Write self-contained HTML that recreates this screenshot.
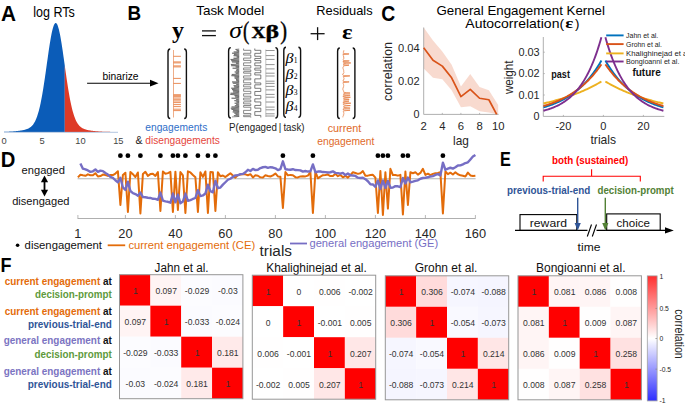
<!DOCTYPE html>
<html><head><meta charset="utf-8"><style>
html,body{margin:0;padding:0;background:#fff;}
svg{display:block;font-family:"Liberation Sans", sans-serif;}
</style></head><body>
<svg width="685" height="403" viewBox="0 0 685 403">
<rect width="685" height="403" fill="#fff"/>
<text x="0.90" y="20.60" font-size="22" fill="#000" font-weight="bold" textLength="15.0" lengthAdjust="spacingAndGlyphs">A</text>
<text x="33.30" y="17.40" font-size="14" fill="#000" textLength="41.5" lengthAdjust="spacingAndGlyphs">log RTs</text>
<polygon points="4.00,132.00 4.00,131.81 4.38,131.80 4.76,131.79 5.14,131.78 5.53,131.77 5.91,131.75 6.29,131.74 6.67,131.73 7.05,131.71 7.43,131.70 7.81,131.68 8.19,131.66 8.58,131.65 8.96,131.63 9.34,131.61 9.72,131.59 10.10,131.57 10.48,131.55 10.86,131.53 11.24,131.51 11.63,131.48 12.01,131.46 12.39,131.43 12.77,131.41 13.15,131.38 13.53,131.35 13.91,131.32 14.29,131.29 14.68,131.26 15.06,131.22 15.44,131.19 15.82,131.15 16.20,131.12 16.58,131.08 16.96,131.04 17.34,131.00 17.73,130.96 18.11,130.91 18.49,130.87 18.87,130.82 19.25,130.77 19.63,130.72 20.01,130.67 20.39,130.61 20.78,130.55 21.16,130.49 21.54,130.43 21.92,130.37 22.30,130.30 22.68,130.23 23.06,130.15 23.44,130.07 23.83,129.99 24.21,129.90 24.59,129.81 24.97,129.71 25.35,129.60 25.73,129.49 26.11,129.37 26.49,129.25 26.88,129.11 27.26,128.97 27.64,128.81 28.02,128.64 28.40,128.46 28.78,128.26 29.16,128.05 29.55,127.82 29.93,127.57 30.31,127.30 30.69,127.01 31.07,126.69 31.45,126.34 31.83,125.97 32.21,125.57 32.60,125.13 32.98,124.65 33.36,124.14 33.74,123.58 34.12,122.98 34.50,122.34 34.88,121.64 35.26,120.88 35.65,120.08 36.03,119.21 36.41,118.27 36.79,117.28 37.17,116.21 37.55,115.08 37.93,113.87 38.31,112.58 38.70,111.22 39.08,109.77 39.46,108.25 39.84,106.64 40.22,104.95 40.60,103.17 40.98,101.31 41.36,99.37 41.75,97.34 42.13,95.23 42.51,93.05 42.89,90.79 43.27,88.45 43.65,86.05 44.03,83.58 44.41,81.06 44.80,78.48 45.18,75.86 45.56,73.20 45.94,70.51 46.32,67.80 46.70,65.08 47.08,62.35 47.46,59.63 47.85,56.93 48.23,54.25 48.61,51.62 48.99,49.03 49.37,46.51 49.75,44.06 50.13,41.70 50.52,39.43 50.90,37.27 51.28,35.23 51.66,33.32 52.04,31.54 52.42,29.91 52.80,28.44 53.18,27.13 53.57,25.99 53.95,25.03 54.33,24.24 54.71,23.65 55.09,23.25 55.47,23.03 55.85,23.02 56.23,23.19 56.62,23.56 57.00,24.11 57.38,24.86 57.76,25.78 58.14,26.89 58.52,28.16 58.90,29.60 59.28,31.20 59.67,32.95 60.05,34.84 60.43,36.86 60.81,38.99 61.19,41.24 61.57,43.59 61.95,46.02 62.33,48.53 62.72,51.10 63.10,53.73 63.48,56.39 63.86,59.09 64.24,61.81 64.62,64.54 64.80,65.81 64.80,132.00" fill="#0B5CB8"/>
<polygon points="64.80,132.00 64.80,65.81 65.00,67.26 65.38,69.98 65.77,72.67 66.15,75.34 66.53,77.97 66.91,80.55 67.29,83.09 67.67,85.57 68.05,87.98 68.43,90.33 68.82,92.60 69.20,94.81 69.58,96.93 69.96,98.97 70.34,100.93 70.72,102.81 71.10,104.60 71.48,106.31 71.87,107.93 72.25,109.48 72.63,110.94 73.01,112.32 73.39,113.62 73.77,114.84 74.15,115.99 74.54,117.07 74.92,118.08 75.30,119.03 75.68,119.91 76.06,120.73 76.44,121.49 76.82,122.20 77.20,122.86 77.59,123.47 77.97,124.03 78.35,124.56 78.73,125.04 79.11,125.48 79.49,125.89 79.87,126.27 80.25,126.62 80.64,126.95 81.02,127.24 81.40,127.52 81.78,127.77 82.16,128.00 82.54,128.22 82.92,128.42 83.30,128.60 83.69,128.78 84.07,128.94 84.45,129.08 84.83,129.22 85.21,129.35 85.59,129.47 85.97,129.58 86.35,129.69 86.74,129.79 87.12,129.88 87.50,129.97 87.88,130.06 88.26,130.14 88.64,130.21 89.02,130.28 89.40,130.35 89.79,130.42 90.17,130.48 90.55,130.54 90.93,130.60 91.31,130.65 91.69,130.71 92.07,130.76 92.45,130.81 92.84,130.86 93.22,130.90 93.60,130.95 93.98,130.99 94.36,131.03 94.74,131.07 95.12,131.11 95.51,131.15 95.89,131.18 96.27,131.22 96.65,131.25 97.03,131.28 97.41,131.31 97.79,131.34 98.17,131.37 98.56,131.40 98.94,131.43 99.32,131.45 99.70,131.48 100.08,131.50 100.46,131.52 100.84,131.55 101.22,131.57 101.61,131.59 101.99,131.61 102.37,131.63 102.75,131.64 103.13,131.66 103.51,131.68 103.89,131.69 104.27,131.71 104.66,131.72 105.04,131.74 105.42,131.75 105.80,131.76 106.18,131.78 106.56,131.79 106.94,131.80 107.32,131.81 107.71,131.82 108.09,131.83 108.47,131.84 108.85,131.85 109.23,131.86 109.61,131.86 109.99,131.87 110.37,131.88 110.76,131.89 111.14,131.89 111.52,131.90 111.90,131.90 112.28,131.91 112.66,131.91 113.04,131.92 113.42,131.92 113.81,131.93 114.19,131.93 114.57,131.94 114.95,131.94 115.33,131.94 115.71,131.95 116.09,131.95 116.47,131.95 116.86,131.96 117.24,131.96 117.62,131.96 118.00,131.96 118.00,132.00" fill="#DE3A26"/>
<line x1="4" y1="132.3" x2="118" y2="132.3" stroke="#9fb8d8" stroke-width="0.8"/>
<text x="4.10" y="144.30" font-size="9.3" fill="#444" text-anchor="middle">0</text>
<text x="42.00" y="144.30" font-size="9.3" fill="#444" text-anchor="middle">5</text>
<text x="80.50" y="144.30" font-size="9.3" fill="#444" text-anchor="middle">10</text>
<text x="118.30" y="144.30" font-size="9.3" fill="#444" text-anchor="middle">15</text>
<line x1="87.1" y1="83.2" x2="151" y2="83.2" stroke="#000" stroke-width="1.1"/>
<polygon points="150,79.8 158.5,83.2 150,86.6" fill="#000"/>
<text x="102.60" y="80.20" font-size="10.5" fill="#000" textLength="36.0" lengthAdjust="spacingAndGlyphs">binarize</text>
<text x="127.60" y="19.90" font-size="21" fill="#000" font-weight="bold" textLength="13.6" lengthAdjust="spacingAndGlyphs">B</text>
<text x="196.20" y="15.20" font-size="12.8" fill="#000" textLength="68.0" lengthAdjust="spacingAndGlyphs">Task Model</text>
<text x="316.30" y="14.50" font-size="12.8" fill="#000" textLength="56.3" lengthAdjust="spacingAndGlyphs">Residuals</text>
<text x="172.00" y="38.40" font-size="22.4" fill="#000" font-weight="bold" textLength="12.0" lengthAdjust="spacingAndGlyphs" font-family='"Liberation Serif", serif'>y</text>
<line x1="202" y1="30.9" x2="215.9" y2="30.9" stroke="#111" stroke-width="1.3"/>
<line x1="202" y1="35.6" x2="215.9" y2="35.6" stroke="#111" stroke-width="1.3"/>
<text x="229.30" y="38.40" font-size="23" fill="#000" textLength="12.6" lengthAdjust="spacingAndGlyphs" font-family='"Liberation Serif", serif' font-style="italic">&#963;</text>
<text x="243.00" y="39.20" font-size="24.5" fill="#000" textLength="6.2" lengthAdjust="spacingAndGlyphs" font-family='"Liberation Serif", serif' stroke="#000" stroke-width="0.45">(</text>
<text x="251.60" y="38.40" font-size="17.7" fill="#000" font-weight="bold" textLength="14.0" lengthAdjust="spacingAndGlyphs" font-family='"Liberation Serif", serif' stroke="#000" stroke-width="0.4">X</text>
<text x="265.40" y="38.40" font-size="19.6" fill="#000" font-weight="bold" textLength="13.6" lengthAdjust="spacingAndGlyphs" font-family='"Liberation Serif", serif' stroke="#000" stroke-width="0.35">&#946;</text>
<text x="280.30" y="39.20" font-size="24.5" fill="#000" textLength="6.8" lengthAdjust="spacingAndGlyphs" font-family='"Liberation Serif", serif' stroke="#000" stroke-width="0.45">)</text>
<line x1="310.6" y1="33.7" x2="324.6" y2="33.7" stroke="#111" stroke-width="1.3"/>
<line x1="317.6" y1="27.2" x2="317.6" y2="40.1" stroke="#111" stroke-width="1.3"/>
<text x="342.00" y="39.40" font-size="21.7" fill="#000" font-weight="bold" textLength="10.6" lengthAdjust="spacingAndGlyphs" font-family='"Liberation Serif", serif'>&#949;</text>
<path d="M170.20,49.00 Q168.00,49.00 168.00,52.30 L168.00,115.20 Q168.00,118.50 170.20,118.50" fill="none" stroke="#111" stroke-width="1.4"/>
<path d="M184.20,49.00 Q186.40,49.00 186.40,52.30 L186.40,115.20 Q186.40,118.50 184.20,118.50" fill="none" stroke="#111" stroke-width="1.4"/>
<line x1="173.5" y1="50" x2="173.5" y2="117.5" stroke="#E3702F" stroke-width="0.7" opacity="0.8"/>
<line x1="173.5" y1="56.3" x2="180.9" y2="56.3" stroke="#E3702F" stroke-width="0.8"/>
<line x1="173.5" y1="61.9" x2="180.9" y2="61.9" stroke="#E3702F" stroke-width="0.8"/>
<line x1="173.5" y1="62.9" x2="180.9" y2="62.9" stroke="#E3702F" stroke-width="0.8"/>
<line x1="173.5" y1="65.9" x2="180.9" y2="65.9" stroke="#E3702F" stroke-width="0.8"/>
<line x1="173.5" y1="66.9" x2="180.9" y2="66.9" stroke="#E3702F" stroke-width="0.8"/>
<line x1="173.5" y1="78.4" x2="180.9" y2="78.4" stroke="#E3702F" stroke-width="0.8"/>
<line x1="173.5" y1="83.4" x2="180.9" y2="83.4" stroke="#E3702F" stroke-width="0.8"/>
<line x1="173.5" y1="94.7" x2="180.9" y2="94.7" stroke="#E3702F" stroke-width="0.8"/>
<line x1="173.5" y1="95.7" x2="180.9" y2="95.7" stroke="#E3702F" stroke-width="0.8"/>
<line x1="173.5" y1="96.7" x2="180.9" y2="96.7" stroke="#E3702F" stroke-width="0.8"/>
<line x1="173.5" y1="98.1" x2="180.9" y2="98.1" stroke="#E3702F" stroke-width="0.8"/>
<line x1="173.5" y1="99.7" x2="180.9" y2="99.7" stroke="#E3702F" stroke-width="0.8"/>
<line x1="173.5" y1="101" x2="180.9" y2="101" stroke="#E3702F" stroke-width="0.8"/>
<line x1="173.5" y1="102.6" x2="180.9" y2="102.6" stroke="#E3702F" stroke-width="0.8"/>
<line x1="173.5" y1="104.6" x2="180.9" y2="104.6" stroke="#E3702F" stroke-width="0.8"/>
<line x1="173.5" y1="106.6" x2="180.9" y2="106.6" stroke="#E3702F" stroke-width="0.8"/>
<line x1="173.5" y1="109.2" x2="180.9" y2="109.2" stroke="#E3702F" stroke-width="0.8"/>
<line x1="173.5" y1="110.6" x2="180.9" y2="110.6" stroke="#E3702F" stroke-width="0.8"/>
<path d="M230.80,47.60 Q228.60,47.60 228.60,50.90 L228.60,114.70 Q228.60,118.00 230.80,118.00" fill="none" stroke="#111" stroke-width="1.4"/>
<path d="M275.40,47.60 Q277.60,47.60 277.60,50.90 L277.60,114.70 Q277.60,118.00 275.40,118.00" fill="none" stroke="#111" stroke-width="1.4"/>
<polyline points="239.20,49.00 235.53,49.45 239.20,50.25 236.57,50.70 239.20,51.50 233.69,51.95 239.20,52.75 231.99,53.20 239.20,54.00 233.97,54.45 239.20,55.25 233.54,55.70 239.20,56.50 236.62,56.95 239.20,57.75 233.53,58.20 239.20,59.00 230.58,59.45 239.20,60.25 231.17,60.70 239.20,61.50 231.96,61.95 239.20,62.75 235.99,63.20 239.20,64.00 230.89,64.45 239.20,65.25 231.13,65.70 239.20,66.50 235.63,66.95 239.20,67.75 232.59,68.20 239.20,69.00 236.57,69.45 239.20,70.25 235.94,70.70 239.20,71.50 234.64,71.95 239.20,72.75 235.67,73.20 239.20,74.00 231.77,74.45 239.20,75.25 231.38,75.70 239.20,76.50 234.46,76.95 239.20,77.75 234.63,78.20 239.20,79.00 235.97,79.45 239.20,80.25 236.15,80.70 239.20,81.50 232.07,81.95 239.20,82.75 232.80,83.20 239.20,84.00 236.34,84.45 239.20,85.25 233.58,85.70 239.20,86.50 234.09,86.95 239.20,87.75 231.19,88.20 239.20,89.00 232.03,89.45 239.20,90.25 232.79,90.70 239.20,91.50 233.11,91.95 239.20,92.75 230.53,93.20 239.20,94.00 230.29,94.45 239.20,95.25 234.50,95.70 239.20,96.50 235.14,96.95 239.20,97.75 231.52,98.20 239.20,99.00 236.29,99.45 239.20,100.25 234.33,100.70 239.20,101.50 236.24,101.95 239.20,102.75 234.62,103.20 239.20,104.00 236.24,104.45 239.20,105.25 234.81,105.70 239.20,106.50 231.56,106.95 239.20,107.75 230.81,108.20 239.20,109.00 231.55,109.45 239.20,110.25 233.05,110.70 239.20,111.50 232.70,111.95 239.20,112.75 234.35,113.20 239.20,114.00 235.60,114.45 239.20,115.25 233.86,115.70 239.20,116.50 231.94,116.95" fill="none" stroke="#333" stroke-width="0.6" opacity="0.85"/>
<polyline points="243.60,48.50 243.60,50.30 250.80,50.30 250.80,53.27 243.60,53.27 243.60,55.04 250.80,55.04 250.80,58.09 243.60,58.09 243.60,60.37 250.80,60.37 250.80,62.87 243.60,62.87 243.60,65.65 250.80,65.65 250.80,67.98 243.60,67.98 243.60,69.92 250.80,69.92 250.80,71.66 243.60,71.66 243.60,73.20 250.80,73.20 250.80,75.93 243.60,75.93 243.60,78.13 250.80,78.13 250.80,79.81 243.60,79.81 243.60,82.79 250.80,82.79 250.80,84.69 243.60,84.69 243.60,86.83 250.80,86.83 250.80,88.77 243.60,88.77 243.60,91.30 250.80,91.30 250.80,93.74 243.60,93.74 243.60,96.22 250.80,96.22 250.80,98.10 243.60,98.10 243.60,100.01 250.80,100.01 250.80,101.87 243.60,101.87 243.60,103.86 250.80,103.86 250.80,105.52 243.60,105.52 243.60,107.22 250.80,107.22 250.80,110.35 243.60,110.35 243.60,113.48 250.80,113.48 250.80,115.22 243.60,115.22 243.60,116.66 250.80,116.66 250.80,117.50" fill="none" stroke="#6a6a6a" stroke-width="0.8"/>
<polyline points="254.80,48.50 254.80,50.32 260.80,50.32 260.80,53.33 254.80,53.33 254.80,56.32 260.80,56.32 260.80,58.44 254.80,58.44 254.80,60.58 260.80,60.58 260.80,62.91 254.80,62.91 254.80,65.71 260.80,65.71 260.80,68.11 254.80,68.11 254.80,70.11 260.80,70.11 260.80,72.74 254.80,72.74 254.80,74.94 260.80,74.94 260.80,78.85 254.80,78.85 254.80,82.93 260.80,82.93 260.80,84.82 254.80,84.82 254.80,88.30 260.80,88.30 260.80,91.47 254.80,91.47 254.80,95.43 260.80,95.43 260.80,98.83 254.80,98.83 254.80,101.94 260.80,101.94 260.80,105.43 254.80,105.43 254.80,108.16 260.80,108.16 260.80,111.62 254.80,111.62 254.80,115.40 260.80,115.40 260.80,117.50" fill="none" stroke="#5a5a5a" stroke-width="0.8"/>
<line x1="265.8" y1="49.5" x2="265.8" y2="117" stroke="#aaa" stroke-width="0.7"/>
<line x1="265.8" y1="50.5" x2="274.6" y2="50.5" stroke="#7a7a7a" stroke-width="0.8"/>
<line x1="265.8" y1="55.6" x2="274.6" y2="55.6" stroke="#7a7a7a" stroke-width="0.8"/>
<line x1="265.8" y1="59.4" x2="274.6" y2="59.4" stroke="#7a7a7a" stroke-width="0.8"/>
<line x1="265.8" y1="64.6" x2="274.6" y2="64.6" stroke="#7a7a7a" stroke-width="0.8"/>
<line x1="265.8" y1="68.9" x2="274.6" y2="68.9" stroke="#7a7a7a" stroke-width="0.8"/>
<line x1="265.8" y1="73.2" x2="274.6" y2="73.2" stroke="#7a7a7a" stroke-width="0.8"/>
<line x1="265.8" y1="76.0" x2="274.6" y2="76.0" stroke="#7a7a7a" stroke-width="0.8"/>
<line x1="265.8" y1="81.2" x2="274.6" y2="81.2" stroke="#7a7a7a" stroke-width="0.8"/>
<line x1="265.8" y1="83.4" x2="274.6" y2="83.4" stroke="#7a7a7a" stroke-width="0.8"/>
<line x1="265.8" y1="86.4" x2="274.6" y2="86.4" stroke="#7a7a7a" stroke-width="0.8"/>
<line x1="265.8" y1="89.9" x2="274.6" y2="89.9" stroke="#7a7a7a" stroke-width="0.8"/>
<line x1="265.8" y1="94.4" x2="274.6" y2="94.4" stroke="#7a7a7a" stroke-width="0.8"/>
<line x1="265.8" y1="97.2" x2="274.6" y2="97.2" stroke="#7a7a7a" stroke-width="0.8"/>
<line x1="265.8" y1="102.0" x2="274.6" y2="102.0" stroke="#7a7a7a" stroke-width="0.8"/>
<line x1="265.8" y1="107.1" x2="274.6" y2="107.1" stroke="#7a7a7a" stroke-width="0.8"/>
<line x1="265.8" y1="109.8" x2="274.6" y2="109.8" stroke="#7a7a7a" stroke-width="0.8"/>
<line x1="265.8" y1="113.8" x2="274.6" y2="113.8" stroke="#7a7a7a" stroke-width="0.8"/>
<line x1="265.8" y1="116.0" x2="274.6" y2="116.0" stroke="#7a7a7a" stroke-width="0.8"/>
<path d="M286.00,47.20 Q283.80,47.20 283.80,50.50 L283.80,114.10 Q283.80,117.40 286.00,117.40" fill="none" stroke="#111" stroke-width="1.4"/>
<path d="M298.40,47.20 Q300.60,47.20 300.60,50.50 L300.60,114.10 Q300.60,117.40 298.40,117.40" fill="none" stroke="#111" stroke-width="1.4"/>
<text x="285.50" y="63.00" font-size="15" fill="#000" textLength="8.0" lengthAdjust="spacingAndGlyphs" font-family='"Liberation Serif", serif' font-style="italic">&#946;</text>
<text x="293.70" y="63.40" font-size="8.6" fill="#000" textLength="3.8" lengthAdjust="spacingAndGlyphs" font-family='"Liberation Serif", serif'>1</text>
<text x="285.50" y="78.80" font-size="15" fill="#000" textLength="8.0" lengthAdjust="spacingAndGlyphs" font-family='"Liberation Serif", serif' font-style="italic">&#946;</text>
<text x="293.70" y="79.20" font-size="8.6" fill="#000" textLength="3.8" lengthAdjust="spacingAndGlyphs" font-family='"Liberation Serif", serif'>2</text>
<text x="285.50" y="94.70" font-size="15" fill="#000" textLength="8.0" lengthAdjust="spacingAndGlyphs" font-family='"Liberation Serif", serif' font-style="italic">&#946;</text>
<text x="293.70" y="95.10" font-size="8.6" fill="#000" textLength="3.8" lengthAdjust="spacingAndGlyphs" font-family='"Liberation Serif", serif'>3</text>
<text x="285.50" y="110.50" font-size="15" fill="#000" textLength="8.0" lengthAdjust="spacingAndGlyphs" font-family='"Liberation Serif", serif' font-style="italic">&#946;</text>
<text x="293.70" y="110.90" font-size="8.6" fill="#000" textLength="3.8" lengthAdjust="spacingAndGlyphs" font-family='"Liberation Serif", serif'>4</text>
<path d="M339.80,48.00 Q337.60,48.00 337.60,51.30 L337.60,115.20 Q337.60,118.50 339.80,118.50" fill="none" stroke="#111" stroke-width="1.4"/>
<path d="M352.70,48.00 Q354.90,48.00 354.90,51.30 L354.90,115.20 Q354.90,118.50 352.70,118.50" fill="none" stroke="#111" stroke-width="1.4"/>
<polyline points="343.78,50.00 343.82,50.35 344.00,50.70 343.63,51.05 343.85,51.40 343.38,51.75 343.47,52.10 343.33,52.45 343.40,52.80 343.10,53.15 343.40,53.50 349.05,53.85 348.42,54.20 342.92,54.55 343.08,54.90 343.41,55.25 343.22,55.60 343.31,55.95 343.43,56.30 343.52,56.65 344.11,57.00 343.55,57.35 343.94,57.70 343.72,58.05 343.84,58.40 343.70,58.75 343.60,59.10 343.14,59.45 343.04,59.80 343.34,60.15 343.40,60.50 349.24,60.85 348.37,61.20 342.98,61.55 343.11,61.90 343.21,62.25 344.89,62.60 350.81,62.95 346.34,63.30 343.55,63.65 343.93,64.00 343.87,64.35 343.40,64.70 349.00,65.05 348.02,65.40 343.54,65.75 343.45,66.10 343.60,66.45 343.27,66.80 343.21,67.15 342.95,67.50 342.90,67.85 342.90,68.20 343.14,68.55 343.00,68.90 343.16,69.25 343.49,69.60 343.53,69.95 343.55,70.30 343.75,70.65 343.58,71.00 343.62,71.35 343.91,71.70 344.22,72.05 344.03,72.40 343.99,72.75 343.57,73.10 343.26,73.45 343.37,73.80 342.91,74.15 342.57,74.50 343.02,74.85 343.11,75.20 344.11,75.55 349.85,75.90 347.01,76.25 343.16,76.60 343.51,76.95 343.66,77.30 343.71,77.65 343.87,78.00 343.97,78.35 343.97,78.70 343.79,79.05 343.84,79.40 343.88,79.75 343.07,80.10 343.20,80.45 342.99,80.80 342.95,81.15 343.40,81.50 349.10,81.85 347.81,82.20 343.12,82.55 342.90,82.90 343.06,83.25 343.18,83.60 343.52,83.95 343.55,84.30 343.58,84.65 343.81,85.00 343.69,85.35 343.77,85.70 343.75,86.05 343.63,86.40 343.45,86.75 343.28,87.10 343.49,87.45 342.88,87.80 343.12,88.15 342.88,88.50 342.85,88.85 342.69,89.20 343.00,89.55 343.00,89.90 343.36,90.25 343.25,90.60 343.31,90.95 343.43,91.30 343.87,91.65 343.89,92.00 343.79,92.35 346.74,92.70 350.07,93.05 345.09,93.40 343.61,93.75 343.54,94.10 343.48,94.45 345.08,94.80 350.13,95.15 346.78,95.50 343.12,95.85 343.04,96.20 342.99,96.55 346.51,96.90 350.39,97.25 344.92,97.60 343.56,97.95 343.45,98.30 343.98,98.65 347.74,99.00 349.20,99.35 343.72,99.70 343.75,100.05 343.70,100.40 344.12,100.75 349.00,101.10 346.97,101.45 343.27,101.80 343.21,102.15 343.04,102.50 345.60,102.85 350.84,103.20 345.67,103.55 343.03,103.90 343.18,104.25 343.48,104.60 343.63,104.95 346.50,105.30 350.33,105.65 345.06,106.00 343.62,106.35 343.75,106.70 343.79,107.05 343.76,107.40 347.20,107.75 350.08,108.10 344.24,108.45 343.23,108.80 343.10,109.15 343.04,109.50 344.21,109.85 350.06,110.20 346.93,110.55 343.49,110.90 343.12,111.25 343.31,111.60 343.28,111.95 343.72,112.30 343.78,112.65 343.79,113.00 343.68,113.35 344.13,113.70 343.85,114.05 343.82,114.40 343.37,114.75 343.49,115.10 343.37,115.45 343.42,115.80 343.15,116.15 343.14,116.50 342.72,116.85 342.93,117.20" fill="none" stroke="#E3702F" stroke-width="0.7"/>
<text x="145.30" y="131.20" font-size="10" fill="#2F6FC8" textLength="62.0" lengthAdjust="spacingAndGlyphs">engagements</text>
<text x="135.40" y="144.30" font-size="10" fill="#222" textLength="7.0" lengthAdjust="spacingAndGlyphs">&amp;</text>
<text x="145.30" y="144.30" font-size="10" fill="#E5463C" textLength="74.6" lengthAdjust="spacingAndGlyphs">disengagements</text>
<text x="229.00" y="131.20" font-size="10" fill="#222" textLength="75.6" lengthAdjust="spacingAndGlyphs">P(engaged&#8201;|&#8201;task)</text>
<text x="327.70" y="131.90" font-size="10" fill="#E06A2A" textLength="33.6" lengthAdjust="spacingAndGlyphs">current</text>
<text x="317.20" y="145.10" font-size="10" fill="#E06A2A" textLength="57.2" lengthAdjust="spacingAndGlyphs">engagement</text>
<text x="381.20" y="21.20" font-size="22" fill="#000" font-weight="bold" textLength="14.0" lengthAdjust="spacingAndGlyphs">C</text>
<text x="436.40" y="14.50" font-size="13.5" fill="#000" textLength="168.6" lengthAdjust="spacingAndGlyphs">General Engagement Kernel</text>
<text x="465.30" y="27.60" font-size="13.5" fill="#000" textLength="98.8" lengthAdjust="spacingAndGlyphs">Autocorrelation(</text>
<text x="565.20" y="27.60" font-size="15.5" fill="#000" font-weight="bold" textLength="8.0" lengthAdjust="spacingAndGlyphs" font-family='"Liberation Serif", serif'>&#949;</text>
<text x="575.00" y="27.60" font-size="13.5" fill="#000" textLength="4.4" lengthAdjust="spacingAndGlyphs">)</text>
<polygon points="423.70,27.50 433.01,40.50 442.32,51.40 451.63,64.70 460.94,86.40 470.25,74.00 479.56,87.00 488.87,90.20 498.18,105.00 498.18,114.40 488.87,112.50 479.56,111.30 470.25,106.30 460.94,107.20 451.63,90.20 442.32,79.30 433.01,77.70 423.70,68.40" fill="#F5CBBB" opacity="0.7"/>
<line x1="423.7" y1="27.5" x2="423.7" y2="114.4" stroke="#a6a6a6" stroke-width="0.9"/>
<line x1="423.7" y1="114.4" x2="498.6" y2="114.4" stroke="#a6a6a6" stroke-width="0.9"/>
<line x1="442.3" y1="114.4" x2="442.3" y2="112.9" stroke="#a6a6a6" stroke-width="0.8"/>
<line x1="460.9" y1="114.4" x2="460.9" y2="112.9" stroke="#a6a6a6" stroke-width="0.8"/>
<line x1="479.6" y1="114.4" x2="479.6" y2="112.9" stroke="#a6a6a6" stroke-width="0.8"/>
<polyline points="423.70,47.80 433.01,60.29 442.32,66.12 451.63,77.77 460.94,96.58 470.25,89.43 479.56,98.25 488.87,99.75 496.68,114.40" fill="none" stroke="#D95319" stroke-width="1.7" stroke-linejoin="round"/>
<text x="419.60" y="51.50" font-size="10.8" fill="#262626" text-anchor="end" textLength="21.6" lengthAdjust="spacingAndGlyphs">0.04</text>
<text x="419.60" y="85.00" font-size="10.8" fill="#262626" text-anchor="end" textLength="21.6" lengthAdjust="spacingAndGlyphs">0.02</text>
<text x="419.60" y="118.20" font-size="10.8" fill="#262626" text-anchor="end" textLength="6.0" lengthAdjust="spacingAndGlyphs">0</text>
<text x="423.70" y="130.00" font-size="11.3" fill="#262626" text-anchor="middle">2</text>
<text x="442.32" y="130.00" font-size="11.3" fill="#262626" text-anchor="middle">4</text>
<text x="460.94" y="130.00" font-size="11.3" fill="#262626" text-anchor="middle">6</text>
<text x="479.56" y="130.00" font-size="11.3" fill="#262626" text-anchor="middle">8</text>
<text x="498.18" y="130.00" font-size="11.3" fill="#262626" text-anchor="middle">10</text>
<text x="453.00" y="145.00" font-size="13.5" fill="#262626" textLength="15.8" lengthAdjust="spacingAndGlyphs">lag</text>
<text transform="translate(392.3,71.5) rotate(-90)" font-size="13" fill="#262626" text-anchor="middle" textLength="59" lengthAdjust="spacingAndGlyphs">correlation</text>
<line x1="543.3" y1="37.0" x2="543.3" y2="116.4" stroke="#a6a6a6" stroke-width="0.9"/>
<line x1="543.3" y1="116.4" x2="664.3" y2="116.4" stroke="#a6a6a6" stroke-width="0.9"/>
<line x1="563.4" y1="116.4" x2="563.4" y2="114.9" stroke="#a6a6a6" stroke-width="0.8"/>
<line x1="603.4" y1="116.4" x2="603.4" y2="114.9" stroke="#a6a6a6" stroke-width="0.8"/>
<line x1="643.4" y1="116.4" x2="643.4" y2="114.9" stroke="#a6a6a6" stroke-width="0.8"/>
<line x1="543.3" y1="95.0" x2="544.8" y2="95.0" stroke="#a6a6a6" stroke-width="0.8"/>
<line x1="543.3" y1="73.6" x2="544.8" y2="73.6" stroke="#a6a6a6" stroke-width="0.8"/>
<line x1="543.3" y1="52.2" x2="544.8" y2="52.2" stroke="#a6a6a6" stroke-width="0.8"/>
<text x="539.60" y="120.20" font-size="10.8" fill="#262626" text-anchor="end" textLength="6.0" lengthAdjust="spacingAndGlyphs">0</text>
<text x="539.60" y="98.80" font-size="10.8" fill="#262626" text-anchor="end" textLength="21.2" lengthAdjust="spacingAndGlyphs">0.01</text>
<text x="539.60" y="77.40" font-size="10.8" fill="#262626" text-anchor="end" textLength="21.2" lengthAdjust="spacingAndGlyphs">0.02</text>
<text x="539.60" y="56.00" font-size="10.8" fill="#262626" text-anchor="end" textLength="21.2" lengthAdjust="spacingAndGlyphs">0.03</text>
<text x="563.40" y="130.30" font-size="11" fill="#262626" text-anchor="middle">-20</text>
<text x="603.40" y="130.30" font-size="11" fill="#262626" text-anchor="middle">0</text>
<text x="643.40" y="130.30" font-size="11" fill="#262626" text-anchor="middle">20</text>
<text x="590.50" y="144.00" font-size="13.5" fill="#262626" textLength="25.6" lengthAdjust="spacingAndGlyphs">trials</text>
<text transform="translate(512.8,77.3) rotate(-90)" font-size="13" fill="#262626" text-anchor="middle" textLength="33.5" lengthAdjust="spacingAndGlyphs">weight</text>
<polyline points="601.40,81.52 600.42,82.10 599.43,82.67 598.45,83.23 597.47,83.78 596.48,84.32 595.50,84.86 594.52,85.38 593.54,85.90 592.55,86.41 591.57,86.91 590.59,87.40 589.60,87.88 588.62,88.35 587.64,88.82 586.65,89.28 585.67,89.73 584.69,90.17 583.71,90.61 582.72,91.04 581.74,91.46 580.76,91.88 579.77,92.28 578.79,92.68 577.81,93.08 576.82,93.47 575.84,93.85 574.86,94.22 573.87,94.59 572.89,94.96 571.91,95.31 570.93,95.66 569.94,96.01 568.96,96.35 567.98,96.68 566.99,97.01 566.01,97.33 565.03,97.65 564.04,97.96 563.06,98.27 562.08,98.57 561.09,98.87 560.11,99.16 559.13,99.44 558.15,99.73 557.16,100.00 556.18,100.28 555.20,100.54 554.21,100.81 553.23,101.07 552.25,101.32 551.26,101.57 550.28,101.82 549.30,102.06 548.32,102.30 547.33,102.54 546.35,102.77 545.37,102.99 544.38,103.22 543.40,103.44" fill="none" stroke="#EDB120" stroke-width="1.9"/>
<polyline points="605.40,81.52 606.38,82.10 607.37,82.67 608.35,83.23 609.33,83.78 610.32,84.32 611.30,84.86 612.28,85.38 613.26,85.90 614.25,86.41 615.23,86.91 616.21,87.40 617.20,87.88 618.18,88.35 619.16,88.82 620.15,89.28 621.13,89.73 622.11,90.17 623.09,90.61 624.08,91.04 625.06,91.46 626.04,91.88 627.03,92.28 628.01,92.68 628.99,93.08 629.98,93.47 630.96,93.85 631.94,94.22 632.93,94.59 633.91,94.96 634.89,95.31 635.87,95.66 636.86,96.01 637.84,96.35 638.82,96.68 639.81,97.01 640.79,97.33 641.77,97.65 642.76,97.96 643.74,98.27 644.72,98.57 645.71,98.87 646.69,99.16 647.67,99.44 648.65,99.73 649.64,100.00 650.62,100.28 651.60,100.54 652.59,100.81 653.57,101.07 654.55,101.32 655.54,101.57 656.52,101.82 657.50,102.06 658.48,102.30 659.47,102.54 660.45,102.77 661.43,102.99 662.42,103.22 663.40,103.44" fill="none" stroke="#EDB120" stroke-width="1.9"/>
<polyline points="601.40,60.55 600.42,62.25 599.43,63.89 598.45,65.49 597.47,67.04 596.48,68.55 595.50,70.00 594.52,71.41 593.54,72.78 592.55,74.11 591.57,75.40 590.59,76.65 589.60,77.86 588.62,79.03 587.64,80.17 586.65,81.27 585.67,82.34 584.69,83.38 583.71,84.38 582.72,85.36 581.74,86.30 580.76,87.22 579.77,88.11 578.79,88.97 577.81,89.80 576.82,90.61 575.84,91.40 574.86,92.16 573.87,92.90 572.89,93.61 571.91,94.31 570.93,94.98 569.94,95.63 568.96,96.26 567.98,96.88 566.99,97.47 566.01,98.05 565.03,98.60 564.04,99.15 563.06,99.67 562.08,100.18 561.09,100.67 560.11,101.15 559.13,101.62 558.15,102.07 557.16,102.50 556.18,102.93 555.20,103.34 554.21,103.73 553.23,104.12 552.25,104.49 551.26,104.86 550.28,105.21 549.30,105.55 548.32,105.88 547.33,106.20 546.35,106.51 545.37,106.81 544.38,107.10 543.40,107.39" fill="none" stroke="#0072BD" stroke-width="1.9"/>
<polyline points="605.40,60.55 606.38,62.25 607.37,63.89 608.35,65.49 609.33,67.04 610.32,68.55 611.30,70.00 612.28,71.41 613.26,72.78 614.25,74.11 615.23,75.40 616.21,76.65 617.20,77.86 618.18,79.03 619.16,80.17 620.15,81.27 621.13,82.34 622.11,83.38 623.09,84.38 624.08,85.36 625.06,86.30 626.04,87.22 627.03,88.11 628.01,88.97 628.99,89.80 629.98,90.61 630.96,91.40 631.94,92.16 632.93,92.90 633.91,93.61 634.89,94.31 635.87,94.98 636.86,95.63 637.84,96.26 638.82,96.88 639.81,97.47 640.79,98.05 641.77,98.60 642.76,99.15 643.74,99.67 644.72,100.18 645.71,100.67 646.69,101.15 647.67,101.62 648.65,102.07 649.64,102.50 650.62,102.93 651.60,103.34 652.59,103.73 653.57,104.12 654.55,104.49 655.54,104.86 656.52,105.21 657.50,105.55 658.48,105.88 659.47,106.20 660.45,106.51 661.43,106.81 662.42,107.10 663.40,107.39" fill="none" stroke="#0072BD" stroke-width="1.9"/>
<polyline points="601.40,64.40 600.42,65.80 599.43,67.17 598.45,68.50 597.47,69.79 596.48,71.05 595.50,72.28 594.52,73.47 593.54,74.63 592.55,75.76 591.57,76.85 590.59,77.92 589.60,78.96 588.62,79.97 587.64,80.96 586.65,81.91 585.67,82.85 584.69,83.75 583.71,84.63 582.72,85.49 581.74,86.33 580.76,87.14 579.77,87.93 578.79,88.70 577.81,89.45 576.82,90.18 575.84,90.88 574.86,91.57 573.87,92.24 572.89,92.90 571.91,93.53 570.93,94.15 569.94,94.75 568.96,95.33 567.98,95.90 566.99,96.46 566.01,97.00 565.03,97.52 564.04,98.03 563.06,98.53 562.08,99.01 561.09,99.48 560.11,99.94 559.13,100.38 558.15,100.81 557.16,101.23 556.18,101.64 555.20,102.04 554.21,102.43 553.23,102.81 552.25,103.17 551.26,103.53 550.28,103.88 549.30,104.22 548.32,104.55 547.33,104.87 546.35,105.18 545.37,105.48 544.38,105.78 543.40,106.06" fill="none" stroke="#D95319" stroke-width="1.9"/>
<polyline points="605.40,64.40 606.38,65.80 607.37,67.17 608.35,68.50 609.33,69.79 610.32,71.05 611.30,72.28 612.28,73.47 613.26,74.63 614.25,75.76 615.23,76.85 616.21,77.92 617.20,78.96 618.18,79.97 619.16,80.96 620.15,81.91 621.13,82.85 622.11,83.75 623.09,84.63 624.08,85.49 625.06,86.33 626.04,87.14 627.03,87.93 628.01,88.70 628.99,89.45 629.98,90.18 630.96,90.88 631.94,91.57 632.93,92.24 633.91,92.90 634.89,93.53 635.87,94.15 636.86,94.75 637.84,95.33 638.82,95.90 639.81,96.46 640.79,97.00 641.77,97.52 642.76,98.03 643.74,98.53 644.72,99.01 645.71,99.48 646.69,99.94 647.67,100.38 648.65,100.81 649.64,101.23 650.62,101.64 651.60,102.04 652.59,102.43 653.57,102.81 654.55,103.17 655.54,103.53 656.52,103.88 657.50,104.22 658.48,104.55 659.47,104.87 660.45,105.18 661.43,105.48 662.42,105.78 663.40,106.06" fill="none" stroke="#D95319" stroke-width="1.9"/>
<polyline points="601.40,37.22 600.42,40.68 599.43,43.99 598.45,47.15 597.47,50.18 596.48,53.07 595.50,55.84 594.52,58.49 593.54,61.02 592.55,63.44 591.57,65.75 590.59,67.97 589.60,70.08 588.62,72.11 587.64,74.04 586.65,75.89 585.67,77.66 584.69,79.36 583.71,80.98 582.72,82.52 581.74,84.00 580.76,85.42 579.77,86.77 578.79,88.07 577.81,89.31 576.82,90.49 575.84,91.62 574.86,92.71 573.87,93.74 572.89,94.73 571.91,95.68 570.93,96.58 569.94,97.45 568.96,98.28 567.98,99.07 566.99,99.83 566.01,100.55 565.03,101.24 564.04,101.91 563.06,102.54 562.08,103.15 561.09,103.72 560.11,104.28 559.13,104.81 558.15,105.31 557.16,105.80 556.18,106.26 555.20,106.71 554.21,107.13 553.23,107.53 552.25,107.92 551.26,108.29 550.28,108.65 549.30,108.99 548.32,109.31 547.33,109.62 546.35,109.92 545.37,110.20 544.38,110.47 543.40,110.73" fill="none" stroke="#7E2F8E" stroke-width="1.9"/>
<polyline points="605.40,37.22 606.38,40.68 607.37,43.99 608.35,47.15 609.33,50.18 610.32,53.07 611.30,55.84 612.28,58.49 613.26,61.02 614.25,63.44 615.23,65.75 616.21,67.97 617.20,70.08 618.18,72.11 619.16,74.04 620.15,75.89 621.13,77.66 622.11,79.36 623.09,80.98 624.08,82.52 625.06,84.00 626.04,85.42 627.03,86.77 628.01,88.07 628.99,89.31 629.98,90.49 630.96,91.62 631.94,92.71 632.93,93.74 633.91,94.73 634.89,95.68 635.87,96.58 636.86,97.45 637.84,98.28 638.82,99.07 639.81,99.83 640.79,100.55 641.77,101.24 642.76,101.91 643.74,102.54 644.72,103.15 645.71,103.72 646.69,104.28 647.67,104.81 648.65,105.31 649.64,105.80 650.62,106.26 651.60,106.71 652.59,107.13 653.57,107.53 654.55,107.92 655.54,108.29 656.52,108.65 657.50,108.99 658.48,109.31 659.47,109.62 660.45,109.92 661.43,110.20 662.42,110.47 663.40,110.73" fill="none" stroke="#7E2F8E" stroke-width="1.9"/>
<line x1="606.2" y1="35.4" x2="623.6" y2="35.4" stroke="#0072BD" stroke-width="1.9"/>
<text x="626.10" y="38.00" font-size="7.4" fill="#222" textLength="32.2" lengthAdjust="spacingAndGlyphs">Jahn et al.</text>
<line x1="606.2" y1="44.1" x2="623.6" y2="44.1" stroke="#D95319" stroke-width="1.9"/>
<text x="626.10" y="46.70" font-size="7.4" fill="#222" textLength="35.9" lengthAdjust="spacingAndGlyphs">Grohn et al.</text>
<line x1="606.2" y1="53.4" x2="623.6" y2="53.4" stroke="#EDB120" stroke-width="1.9"/>
<text x="626.10" y="56.00" font-size="7.4" fill="#222" textLength="65.0" lengthAdjust="spacingAndGlyphs">Khalighinejad et al.</text>
<line x1="606.2" y1="61.5" x2="623.6" y2="61.5" stroke="#7E2F8E" stroke-width="1.9"/>
<text x="626.10" y="64.10" font-size="7.4" fill="#222" textLength="53.3" lengthAdjust="spacingAndGlyphs">Bongioanni et al.</text>
<text x="551.30" y="77.50" font-size="10.5" fill="#111" font-weight="bold" textLength="18.6" lengthAdjust="spacingAndGlyphs">past</text>
<text x="632.40" y="75.50" font-size="10.5" fill="#111" font-weight="bold" textLength="28.3" lengthAdjust="spacingAndGlyphs">future</text>
<text x="0.80" y="166.90" font-size="22" fill="#000" font-weight="bold" textLength="14.6" lengthAdjust="spacingAndGlyphs">D</text>
<text x="21.60" y="173.60" font-size="11.5" fill="#111" textLength="43.3" lengthAdjust="spacingAndGlyphs">engaged</text>
<text x="12.20" y="204.50" font-size="11.5" fill="#111" textLength="57.3" lengthAdjust="spacingAndGlyphs">disengaged</text>
<line x1="44.5" y1="179" x2="44.5" y2="193" stroke="#000" stroke-width="1.8"/>
<polygon points="40.9,182.2 44.5,175.6 48.1,182.2" fill="#000"/>
<polygon points="40.9,189.8 44.5,196.4 48.1,189.8" fill="#000"/>
<line x1="77.6" y1="218.5" x2="475.6" y2="218.5" stroke="#a6a6a6" stroke-width="0.9"/>
<line x1="77.9" y1="218.5" x2="77.9" y2="215.0" stroke="#a6a6a6" stroke-width="0.8"/>
<text x="77.90" y="237.60" font-size="12.8" fill="#262626" text-anchor="middle">1</text>
<line x1="125.4" y1="218.5" x2="125.4" y2="215.0" stroke="#a6a6a6" stroke-width="0.8"/>
<text x="125.40" y="237.60" font-size="12.8" fill="#262626" text-anchor="middle">20</text>
<line x1="175.4" y1="218.5" x2="175.4" y2="215.0" stroke="#a6a6a6" stroke-width="0.8"/>
<text x="175.40" y="237.60" font-size="12.8" fill="#262626" text-anchor="middle">40</text>
<line x1="225.4" y1="218.5" x2="225.4" y2="215.0" stroke="#a6a6a6" stroke-width="0.8"/>
<text x="225.40" y="237.60" font-size="12.8" fill="#262626" text-anchor="middle">60</text>
<line x1="275.4" y1="218.5" x2="275.4" y2="215.0" stroke="#a6a6a6" stroke-width="0.8"/>
<text x="275.40" y="237.60" font-size="12.8" fill="#262626" text-anchor="middle">80</text>
<line x1="325.4" y1="218.5" x2="325.4" y2="215.0" stroke="#a6a6a6" stroke-width="0.8"/>
<text x="325.40" y="237.60" font-size="12.8" fill="#262626" text-anchor="middle">100</text>
<line x1="375.4" y1="218.5" x2="375.4" y2="215.0" stroke="#a6a6a6" stroke-width="0.8"/>
<text x="375.40" y="237.60" font-size="12.8" fill="#262626" text-anchor="middle">120</text>
<line x1="425.4" y1="218.5" x2="425.4" y2="215.0" stroke="#a6a6a6" stroke-width="0.8"/>
<text x="425.40" y="237.60" font-size="12.8" fill="#262626" text-anchor="middle">140</text>
<line x1="475.4" y1="218.5" x2="475.4" y2="215.0" stroke="#a6a6a6" stroke-width="0.8"/>
<text x="475.40" y="237.60" font-size="12.8" fill="#262626" text-anchor="middle">160</text>
<line x1="77.6" y1="178.7" x2="475.6" y2="178.7" stroke="#b4b4b4" stroke-width="1.1"/>
<polyline points="77.90,177.33 80.40,174.74 82.90,175.34 85.40,175.79 87.90,174.35 90.40,175.30 92.90,175.30 95.40,173.19 97.90,176.52 100.40,176.02 102.90,174.55 105.40,175.09 107.90,175.91 110.40,174.99 112.90,175.01 115.40,173.56 117.90,171.22 120.40,205.00 122.90,174.93 125.40,172.77 127.90,212.00 130.40,171.89 132.90,174.14 135.40,177.03 137.90,172.48 140.40,213.50 142.90,174.11 145.40,171.85 147.90,175.86 150.40,174.10 152.90,173.71 155.40,175.89 157.90,172.14 160.40,211.00 162.90,171.46 165.40,173.81 167.90,173.15 170.40,171.89 172.90,212.00 175.40,171.67 177.90,210.00 180.40,172.03 182.90,175.28 185.40,213.00 187.90,171.36 190.40,172.44 192.90,175.06 195.40,177.30 197.90,212.00 200.40,172.24 202.90,176.89 205.40,171.43 207.90,213.00 210.40,171.94 212.90,172.27 215.40,211.00 217.90,172.34 220.40,176.20 222.90,175.49 225.40,177.03 227.90,175.16 230.40,173.31 232.90,175.48 235.40,177.64 237.90,175.14 240.40,174.53 242.90,174.17 245.40,174.34 247.90,175.24 250.40,174.18 252.90,177.40 255.40,175.26 257.90,175.73 260.40,177.33 262.90,177.40 265.40,175.34 267.90,176.00 270.40,176.48 272.90,175.37 275.40,173.47 277.90,176.39 280.40,176.67 282.90,208.00 285.40,171.97 287.90,175.36 290.40,174.89 292.90,175.24 295.40,177.16 297.90,177.44 300.40,176.40 302.90,176.26 305.40,176.41 307.90,175.59 310.40,172.13 312.90,213.00 315.40,171.69 317.90,178.31 320.40,176.64 322.90,175.19 325.40,175.03 327.90,174.56 330.40,176.05 332.90,176.07 335.40,173.87 337.90,176.18 340.40,174.92 342.90,177.31 345.40,175.79 347.90,177.66 350.40,175.05 352.90,172.25 355.40,172.96 357.90,173.87 360.40,173.28 362.90,171.12 365.40,175.82 367.90,175.63 370.40,175.09 372.90,174.82 375.40,177.70 377.90,213.00 380.40,171.05 382.90,215.00 385.40,172.34 387.90,208.60 390.40,168.80 392.90,175.09 395.40,174.93 397.90,175.66 400.40,174.84 402.90,214.50 405.40,171.56 407.90,205.00 410.40,172.31 412.90,173.21 415.40,172.30 417.90,174.61 420.40,172.90 422.90,168.80 425.40,174.95 427.90,173.65 430.40,175.10 432.90,173.86 435.40,173.15 437.90,173.01 440.40,172.33 442.90,213.40 445.40,171.49 447.90,174.16 450.40,172.66 452.90,174.52 455.40,172.35 457.90,174.27 460.40,175.34 462.90,175.81 465.40,176.56 467.90,172.63 470.40,175.41 472.90,175.95 475.40,175.68" fill="none" stroke="#E36C0A" stroke-width="2" stroke-linejoin="round"/>
<polyline points="80.40,163.42 82.90,168.65 85.40,169.36 87.90,170.46 90.40,171.84 92.90,171.30 95.40,169.47 97.90,171.90 100.40,170.62 102.90,171.14 105.40,173.02 107.90,174.51 110.40,176.85 112.90,177.81 115.40,180.24 117.90,182.33 120.40,177.70 122.90,187.47 125.40,189.95 127.90,181.70 130.40,191.03 132.90,193.12 135.40,194.08 137.90,195.67 140.40,192.60 142.90,197.11 145.40,197.25 147.90,197.75 150.40,197.94 152.90,198.81 155.40,198.90 157.90,199.82 160.40,192.60 162.90,200.57 165.40,201.38 167.90,201.80 170.40,202.73 172.90,193.60 175.40,202.36 177.90,194.60 180.40,203.24 182.90,201.56 185.40,193.60 187.90,200.75 190.40,200.06 192.90,198.98 195.40,198.00 197.90,190.20 200.40,196.14 202.90,195.45 205.40,193.47 207.90,184.70 210.40,191.22 212.90,192.28 215.40,180.70 217.90,188.17 220.40,187.54 222.90,184.66 225.40,182.25 227.90,179.76 230.40,178.75 232.90,176.88 235.40,175.35 237.90,175.28 240.40,174.14 242.90,173.89 245.40,172.26 247.90,169.79 250.40,170.98 252.90,168.89 255.40,170.15 257.90,169.72 260.40,168.07 262.90,167.24 265.40,166.85 267.90,167.86 270.40,167.20 272.90,167.54 275.40,168.29 277.90,170.13 280.40,169.13 282.90,161.30 285.40,169.23 287.90,169.54 290.40,169.75 292.90,169.23 295.40,170.02 297.90,170.11 300.40,170.38 302.90,171.65 305.40,171.01 307.90,171.55 310.40,171.42 312.90,164.40 315.40,172.23 317.90,171.56 320.40,171.53 322.90,172.07 325.40,172.14 327.90,172.45 330.40,172.25 332.90,171.35 335.40,172.86 337.90,173.08 340.40,173.66 342.90,172.93 345.40,175.07 347.90,173.50 350.40,175.20 352.90,175.45 355.40,175.93 357.90,177.65 360.40,178.01 362.90,177.71 365.40,179.18 367.90,181.28 370.40,184.37 372.90,184.43 375.40,186.86 377.90,180.40 380.40,188.93 382.90,180.40 385.40,187.82 387.90,180.80 390.40,187.69 392.90,187.55 395.40,186.16 397.90,186.27 400.40,187.17 402.90,178.00 405.40,183.48 407.90,177.50 410.40,182.25 412.90,181.68 415.40,180.89 417.90,180.30 420.40,178.72 422.90,178.02 425.40,177.77 427.90,177.27 430.40,176.47 432.90,176.11 435.40,174.91 437.90,174.20 440.40,175.38 442.90,162.70 445.40,169.77 447.90,168.64 450.40,167.75 452.90,168.57 455.40,167.28 457.90,165.49 460.40,165.34 462.90,164.35 465.40,163.03 467.90,162.31 470.40,159.41 472.90,156.53 475.40,154.92" fill="none" stroke="#766EC4" stroke-width="2.4" stroke-linejoin="round"/>
<circle cx="120.4" cy="155.7" r="2.4" fill="#000"/>
<circle cx="127.9" cy="155.7" r="2.4" fill="#000"/>
<circle cx="140.4" cy="155.7" r="2.4" fill="#000"/>
<circle cx="160.4" cy="155.7" r="2.4" fill="#000"/>
<circle cx="172.9" cy="155.7" r="2.4" fill="#000"/>
<circle cx="177.9" cy="155.7" r="2.4" fill="#000"/>
<circle cx="185.4" cy="155.7" r="2.4" fill="#000"/>
<circle cx="197.9" cy="155.7" r="2.4" fill="#000"/>
<circle cx="207.9" cy="155.7" r="2.4" fill="#000"/>
<circle cx="215.4" cy="155.7" r="2.4" fill="#000"/>
<circle cx="282.9" cy="155.7" r="2.4" fill="#000"/>
<circle cx="312.9" cy="155.7" r="2.4" fill="#000"/>
<circle cx="377.9" cy="155.7" r="2.4" fill="#000"/>
<circle cx="382.9" cy="155.7" r="2.4" fill="#000"/>
<circle cx="387.9" cy="155.7" r="2.4" fill="#000"/>
<circle cx="402.9" cy="155.7" r="2.4" fill="#000"/>
<circle cx="407.9" cy="155.7" r="2.4" fill="#000"/>
<circle cx="442.9" cy="155.7" r="2.4" fill="#000"/>
<circle cx="17.6" cy="245.3" r="1.8" fill="#000"/>
<text x="24.60" y="249.00" font-size="11" fill="#111" textLength="77.4" lengthAdjust="spacingAndGlyphs">disengagement</text>
<line x1="107.7" y1="245.3" x2="125.2" y2="245.3" stroke="#E36C0A" stroke-width="1.8"/>
<text x="128.50" y="249.00" font-size="11" fill="#E36C0A" textLength="126.7" lengthAdjust="spacingAndGlyphs">current engagement (CE)</text>
<text x="259.60" y="256.30" font-size="15.5" fill="#262626" textLength="32.4" lengthAdjust="spacingAndGlyphs">trials</text>
<line x1="290" y1="243.5" x2="307" y2="243.5" stroke="#766EC4" stroke-width="1.8"/>
<text x="309.50" y="246.60" font-size="11" fill="#766EC4" textLength="128.6" lengthAdjust="spacingAndGlyphs">general engagement (GE)</text>
<text x="500.00" y="166.30" font-size="21" fill="#000" font-weight="bold" textLength="10.8" lengthAdjust="spacingAndGlyphs">E</text>
<text x="552.00" y="163.50" font-size="10" fill="#FF0000" font-weight="bold" textLength="76.2" lengthAdjust="spacingAndGlyphs">both (sustained)</text>
<path d="M543.2,181.4 L543.2,176.3 L640.3,176.3 L640.3,181.4 M591.6,176.3 L591.6,169.2" fill="none" stroke="#FF0000" stroke-width="1.1"/>
<text x="507.00" y="194.20" font-size="10" fill="#2F5597" font-weight="bold" textLength="83.3" lengthAdjust="spacingAndGlyphs">previous-trial-end</text>
<text x="597.50" y="194.20" font-size="10" fill="#538135" font-weight="bold" textLength="76.2" lengthAdjust="spacingAndGlyphs">decision-prompt</text>
<rect x="520.0" y="214.6" width="56.8" height="15.8" fill="#fff" stroke="#000" stroke-width="1.1"/>
<rect x="606.7" y="213.9" width="53.5" height="16.5" fill="#fff" stroke="#000" stroke-width="1.1"/>
<line x1="515" y1="230.4" x2="667" y2="230.4" stroke="#000" stroke-width="1.2"/>
<polygon points="665,227.2 673.8,230.4 665,233.6" fill="#000"/>
<rect x="587.5" y="226" width="9" height="9" fill="#fff"/>
<line x1="587.3" y1="236.5" x2="591.5" y2="224.5" stroke="#000" stroke-width="1.1"/>
<line x1="592.3" y1="236.5" x2="596.5" y2="224.5" stroke="#000" stroke-width="1.1"/>
<text x="529.80" y="227.20" font-size="11.5" fill="#111" textLength="37.2" lengthAdjust="spacingAndGlyphs">reward</text>
<text x="616.60" y="226.70" font-size="11.5" fill="#111" textLength="33.4" lengthAdjust="spacingAndGlyphs">choice</text>
<text x="577.60" y="251.30" font-size="11" fill="#111" textLength="22.8" lengthAdjust="spacingAndGlyphs">time</text>
<line x1="577.7" y1="197.7" x2="577.7" y2="224" stroke="#2F5597" stroke-width="1.4"/>
<polygon points="574.6,223 577.7,230.4 580.8,223" fill="#2F5597"/>
<line x1="605.3" y1="197.7" x2="605.3" y2="224" stroke="#538135" stroke-width="1.4"/>
<polygon points="602.2,223 605.3,230.4 608.4,223" fill="#538135"/>
<text x="0.60" y="272.10" font-size="21" fill="#000" font-weight="bold" textLength="11.0" lengthAdjust="spacingAndGlyphs">F</text>
<text x="4.7" y="285.1" font-size="10.2" font-weight="bold" textLength="107.1" lengthAdjust="spacingAndGlyphs"><tspan fill="#E46C0A">current engagement</tspan><tspan fill="#111"> at</tspan></text>
<text x="35.0" y="298.2" font-size="10.2" font-weight="bold" textLength="76.8" lengthAdjust="spacingAndGlyphs"><tspan fill="#5E9A3C">decision-prompt</tspan></text>
<text x="4.7" y="314.9" font-size="10.2" font-weight="bold" textLength="107.1" lengthAdjust="spacingAndGlyphs"><tspan fill="#E46C0A">current engagement</tspan><tspan fill="#111"> at</tspan></text>
<text x="27.9" y="328.0" font-size="10.2" font-weight="bold" textLength="83.9" lengthAdjust="spacingAndGlyphs"><tspan fill="#2F5597">previous-trial-end</tspan></text>
<text x="3.7" y="344.3" font-size="10.2" font-weight="bold" textLength="108.1" lengthAdjust="spacingAndGlyphs"><tspan fill="#7B74C2">general engagement</tspan><tspan fill="#111"> at</tspan></text>
<text x="34.6" y="358.1" font-size="10.2" font-weight="bold" textLength="77.2" lengthAdjust="spacingAndGlyphs"><tspan fill="#5E9A3C">decision-prompt</tspan></text>
<text x="3.7" y="374.5" font-size="10.2" font-weight="bold" textLength="108.1" lengthAdjust="spacingAndGlyphs"><tspan fill="#7B74C2">general engagement</tspan><tspan fill="#111"> at</tspan></text>
<text x="27.8" y="387.9" font-size="10.2" font-weight="bold" textLength="84.0" lengthAdjust="spacingAndGlyphs"><tspan fill="#2F5597">previous-trial-end</tspan></text>
<text x="154.60" y="272.40" font-size="12.5" fill="#111" textLength="53.9" lengthAdjust="spacingAndGlyphs">Jahn et al.</text>
<rect x="119.50" y="274.70" width="30.90" height="31.05" fill="rgb(255,0,0)"/>
<text x="135.33" y="294.10" font-size="8.6" fill="#333" text-anchor="middle">1</text>
<rect x="150.35" y="274.70" width="30.90" height="31.05" fill="rgb(255,244,244)"/>
<text x="166.18" y="294.10" font-size="8.6" fill="#333" text-anchor="middle">0.097</text>
<rect x="181.20" y="274.70" width="30.90" height="31.05" fill="rgb(252,252,255)"/>
<text x="197.03" y="294.10" font-size="8.6" fill="#333" text-anchor="middle">-0.029</text>
<rect x="212.05" y="274.70" width="30.90" height="31.05" fill="rgb(251,251,255)"/>
<text x="227.88" y="294.10" font-size="8.6" fill="#333" text-anchor="middle">-0.03</text>
<rect x="119.50" y="305.70" width="30.90" height="31.05" fill="rgb(255,244,244)"/>
<text x="135.33" y="325.10" font-size="8.6" fill="#333" text-anchor="middle">0.097</text>
<rect x="150.35" y="305.70" width="30.90" height="31.05" fill="rgb(255,0,0)"/>
<text x="166.18" y="325.10" font-size="8.6" fill="#333" text-anchor="middle">1</text>
<rect x="181.20" y="305.70" width="30.90" height="31.05" fill="rgb(251,251,255)"/>
<text x="197.03" y="325.10" font-size="8.6" fill="#333" text-anchor="middle">-0.033</text>
<rect x="212.05" y="305.70" width="30.90" height="31.05" fill="rgb(252,252,255)"/>
<text x="227.88" y="325.10" font-size="8.6" fill="#333" text-anchor="middle">-0.024</text>
<rect x="119.50" y="336.70" width="30.90" height="31.05" fill="rgb(252,252,255)"/>
<text x="135.33" y="356.10" font-size="8.6" fill="#333" text-anchor="middle">-0.029</text>
<rect x="150.35" y="336.70" width="30.90" height="31.05" fill="rgb(251,251,255)"/>
<text x="166.18" y="356.10" font-size="8.6" fill="#333" text-anchor="middle">-0.033</text>
<rect x="181.20" y="336.70" width="30.90" height="31.05" fill="rgb(255,0,0)"/>
<text x="197.03" y="356.10" font-size="8.6" fill="#333" text-anchor="middle">1</text>
<rect x="212.05" y="336.70" width="30.90" height="31.05" fill="rgb(255,234,234)"/>
<text x="227.88" y="356.10" font-size="8.6" fill="#333" text-anchor="middle">0.181</text>
<rect x="119.50" y="367.70" width="30.90" height="31.05" fill="rgb(251,251,255)"/>
<text x="135.33" y="387.10" font-size="8.6" fill="#333" text-anchor="middle">-0.03</text>
<rect x="150.35" y="367.70" width="30.90" height="31.05" fill="rgb(252,252,255)"/>
<text x="166.18" y="387.10" font-size="8.6" fill="#333" text-anchor="middle">-0.024</text>
<rect x="181.20" y="367.70" width="30.90" height="31.05" fill="rgb(255,234,234)"/>
<text x="197.03" y="387.10" font-size="8.6" fill="#333" text-anchor="middle">0.181</text>
<rect x="212.05" y="367.70" width="30.90" height="31.05" fill="rgb(255,0,0)"/>
<text x="227.88" y="387.10" font-size="8.6" fill="#333" text-anchor="middle">1</text>
<rect x="119.50" y="274.70" width="123.4" height="124" fill="none" stroke="#969696" stroke-width="1"/>
<text x="266.30" y="271.60" font-size="12.5" fill="#111" textLength="100.5" lengthAdjust="spacingAndGlyphs">Khalighinejad et al.</text>
<rect x="252.30" y="275.20" width="30.90" height="31.05" fill="rgb(255,0,0)"/>
<text x="268.12" y="294.60" font-size="8.6" fill="#333" text-anchor="middle">1</text>
<rect x="283.15" y="275.20" width="30.90" height="31.05" fill="rgb(255,255,255)"/>
<text x="298.98" y="294.60" font-size="8.6" fill="#333" text-anchor="middle">0</text>
<rect x="314.00" y="275.20" width="30.90" height="31.05" fill="rgb(255,254,254)"/>
<text x="329.82" y="294.60" font-size="8.6" fill="#333" text-anchor="middle">0.006</text>
<rect x="344.85" y="275.20" width="30.90" height="31.05" fill="rgb(255,255,255)"/>
<text x="360.68" y="294.60" font-size="8.6" fill="#333" text-anchor="middle">-0.002</text>
<rect x="252.30" y="306.20" width="30.90" height="31.05" fill="rgb(255,255,255)"/>
<text x="268.12" y="325.60" font-size="8.6" fill="#333" text-anchor="middle">0</text>
<rect x="283.15" y="306.20" width="30.90" height="31.05" fill="rgb(255,0,0)"/>
<text x="298.98" y="325.60" font-size="8.6" fill="#333" text-anchor="middle">1</text>
<rect x="314.00" y="306.20" width="30.90" height="31.05" fill="rgb(255,255,255)"/>
<text x="329.82" y="325.60" font-size="8.6" fill="#333" text-anchor="middle">-0.001</text>
<rect x="344.85" y="306.20" width="30.90" height="31.05" fill="rgb(255,254,254)"/>
<text x="360.68" y="325.60" font-size="8.6" fill="#333" text-anchor="middle">0.005</text>
<rect x="252.30" y="337.20" width="30.90" height="31.05" fill="rgb(255,254,254)"/>
<text x="268.12" y="356.60" font-size="8.6" fill="#333" text-anchor="middle">0.006</text>
<rect x="283.15" y="337.20" width="30.90" height="31.05" fill="rgb(255,255,255)"/>
<text x="298.98" y="356.60" font-size="8.6" fill="#333" text-anchor="middle">-0.001</text>
<rect x="314.00" y="337.20" width="30.90" height="31.05" fill="rgb(255,0,0)"/>
<text x="329.82" y="356.60" font-size="8.6" fill="#333" text-anchor="middle">1</text>
<rect x="344.85" y="337.20" width="30.90" height="31.05" fill="rgb(255,231,231)"/>
<text x="360.68" y="356.60" font-size="8.6" fill="#333" text-anchor="middle">0.207</text>
<rect x="252.30" y="368.20" width="30.90" height="31.05" fill="rgb(255,255,255)"/>
<text x="268.12" y="387.60" font-size="8.6" fill="#333" text-anchor="middle">-0.002</text>
<rect x="283.15" y="368.20" width="30.90" height="31.05" fill="rgb(255,254,254)"/>
<text x="298.98" y="387.60" font-size="8.6" fill="#333" text-anchor="middle">0.005</text>
<rect x="314.00" y="368.20" width="30.90" height="31.05" fill="rgb(255,231,231)"/>
<text x="329.82" y="387.60" font-size="8.6" fill="#333" text-anchor="middle">0.207</text>
<rect x="344.85" y="368.20" width="30.90" height="31.05" fill="rgb(255,0,0)"/>
<text x="360.68" y="387.60" font-size="8.6" fill="#333" text-anchor="middle">1</text>
<rect x="252.30" y="275.20" width="123.4" height="124" fill="none" stroke="#969696" stroke-width="1"/>
<text x="414.70" y="272.40" font-size="12.5" fill="#111" textLength="62.7" lengthAdjust="spacingAndGlyphs">Grohn et al.</text>
<rect x="385.30" y="275.80" width="30.90" height="31.05" fill="rgb(255,0,0)"/>
<text x="401.12" y="295.20" font-size="8.6" fill="#333" text-anchor="middle">1</text>
<rect x="416.15" y="275.80" width="30.90" height="31.05" fill="rgb(255,219,219)"/>
<text x="431.98" y="295.20" font-size="8.6" fill="#333" text-anchor="middle">0.306</text>
<rect x="447.00" y="275.80" width="30.90" height="31.05" fill="rgb(246,246,255)"/>
<text x="462.82" y="295.20" font-size="8.6" fill="#333" text-anchor="middle">-0.074</text>
<rect x="477.85" y="275.80" width="30.90" height="31.05" fill="rgb(245,245,255)"/>
<text x="493.68" y="295.20" font-size="8.6" fill="#333" text-anchor="middle">-0.088</text>
<rect x="385.30" y="306.80" width="30.90" height="31.05" fill="rgb(255,219,219)"/>
<text x="401.12" y="326.20" font-size="8.6" fill="#333" text-anchor="middle">0.306</text>
<rect x="416.15" y="306.80" width="30.90" height="31.05" fill="rgb(255,0,0)"/>
<text x="431.98" y="326.20" font-size="8.6" fill="#333" text-anchor="middle">1</text>
<rect x="447.00" y="306.80" width="30.90" height="31.05" fill="rgb(249,249,255)"/>
<text x="462.82" y="326.20" font-size="8.6" fill="#333" text-anchor="middle">-0.054</text>
<rect x="477.85" y="306.80" width="30.90" height="31.05" fill="rgb(246,246,255)"/>
<text x="493.68" y="326.20" font-size="8.6" fill="#333" text-anchor="middle">-0.073</text>
<rect x="385.30" y="337.80" width="30.90" height="31.05" fill="rgb(246,246,255)"/>
<text x="401.12" y="357.20" font-size="8.6" fill="#333" text-anchor="middle">-0.074</text>
<rect x="416.15" y="337.80" width="30.90" height="31.05" fill="rgb(249,249,255)"/>
<text x="431.98" y="357.20" font-size="8.6" fill="#333" text-anchor="middle">-0.054</text>
<rect x="447.00" y="337.80" width="30.90" height="31.05" fill="rgb(255,0,0)"/>
<text x="462.82" y="357.20" font-size="8.6" fill="#333" text-anchor="middle">1</text>
<rect x="477.85" y="337.80" width="30.90" height="31.05" fill="rgb(255,230,230)"/>
<text x="493.68" y="357.20" font-size="8.6" fill="#333" text-anchor="middle">0.214</text>
<rect x="385.30" y="368.80" width="30.90" height="31.05" fill="rgb(245,245,255)"/>
<text x="401.12" y="388.20" font-size="8.6" fill="#333" text-anchor="middle">-0.088</text>
<rect x="416.15" y="368.80" width="30.90" height="31.05" fill="rgb(246,246,255)"/>
<text x="431.98" y="388.20" font-size="8.6" fill="#333" text-anchor="middle">-0.073</text>
<rect x="447.00" y="368.80" width="30.90" height="31.05" fill="rgb(255,230,230)"/>
<text x="462.82" y="388.20" font-size="8.6" fill="#333" text-anchor="middle">0.214</text>
<rect x="477.85" y="368.80" width="30.90" height="31.05" fill="rgb(255,0,0)"/>
<text x="493.68" y="388.20" font-size="8.6" fill="#333" text-anchor="middle">1</text>
<rect x="385.30" y="275.80" width="123.4" height="124" fill="none" stroke="#969696" stroke-width="1"/>
<text x="536.00" y="272.40" font-size="12.5" fill="#111" textLength="89.5" lengthAdjust="spacingAndGlyphs">Bongioanni et al.</text>
<rect x="518.00" y="275.80" width="30.90" height="31.05" fill="rgb(255,0,0)"/>
<text x="533.82" y="295.20" font-size="8.6" fill="#333" text-anchor="middle">1</text>
<rect x="548.85" y="275.80" width="30.90" height="31.05" fill="rgb(255,245,245)"/>
<text x="564.67" y="295.20" font-size="8.6" fill="#333" text-anchor="middle">0.081</text>
<rect x="579.70" y="275.80" width="30.90" height="31.05" fill="rgb(255,245,245)"/>
<text x="595.52" y="295.20" font-size="8.6" fill="#333" text-anchor="middle">0.086</text>
<rect x="610.55" y="275.80" width="30.90" height="31.05" fill="rgb(255,254,254)"/>
<text x="626.38" y="295.20" font-size="8.6" fill="#333" text-anchor="middle">0.008</text>
<rect x="518.00" y="306.80" width="30.90" height="31.05" fill="rgb(255,245,245)"/>
<text x="533.82" y="326.20" font-size="8.6" fill="#333" text-anchor="middle">0.081</text>
<rect x="548.85" y="306.80" width="30.90" height="31.05" fill="rgb(255,0,0)"/>
<text x="564.67" y="326.20" font-size="8.6" fill="#333" text-anchor="middle">1</text>
<rect x="579.70" y="306.80" width="30.90" height="31.05" fill="rgb(255,254,254)"/>
<text x="595.52" y="326.20" font-size="8.6" fill="#333" text-anchor="middle">0.009</text>
<rect x="610.55" y="306.80" width="30.90" height="31.05" fill="rgb(255,245,245)"/>
<text x="626.38" y="326.20" font-size="8.6" fill="#333" text-anchor="middle">0.087</text>
<rect x="518.00" y="337.80" width="30.90" height="31.05" fill="rgb(255,245,245)"/>
<text x="533.82" y="357.20" font-size="8.6" fill="#333" text-anchor="middle">0.086</text>
<rect x="548.85" y="337.80" width="30.90" height="31.05" fill="rgb(255,254,254)"/>
<text x="564.67" y="357.20" font-size="8.6" fill="#333" text-anchor="middle">0.009</text>
<rect x="579.70" y="337.80" width="30.90" height="31.05" fill="rgb(255,0,0)"/>
<text x="595.52" y="357.20" font-size="8.6" fill="#333" text-anchor="middle">1</text>
<rect x="610.55" y="337.80" width="30.90" height="31.05" fill="rgb(255,225,225)"/>
<text x="626.38" y="357.20" font-size="8.6" fill="#333" text-anchor="middle">0.258</text>
<rect x="518.00" y="368.80" width="30.90" height="31.05" fill="rgb(255,254,254)"/>
<text x="533.82" y="388.20" font-size="8.6" fill="#333" text-anchor="middle">0.008</text>
<rect x="548.85" y="368.80" width="30.90" height="31.05" fill="rgb(255,245,245)"/>
<text x="564.67" y="388.20" font-size="8.6" fill="#333" text-anchor="middle">0.087</text>
<rect x="579.70" y="368.80" width="30.90" height="31.05" fill="rgb(255,225,225)"/>
<text x="595.52" y="388.20" font-size="8.6" fill="#333" text-anchor="middle">0.258</text>
<rect x="610.55" y="368.80" width="30.90" height="31.05" fill="rgb(255,0,0)"/>
<text x="626.38" y="388.20" font-size="8.6" fill="#333" text-anchor="middle">1</text>
<rect x="518.00" y="275.80" width="123.4" height="124" fill="none" stroke="#969696" stroke-width="1"/>
<defs><linearGradient id="cb" x1="0" y1="0" x2="0" y2="1"><stop offset="0.000" stop-color="rgb(255,46,46)"/><stop offset="0.025" stop-color="rgb(255,56,56)"/><stop offset="0.050" stop-color="rgb(255,67,67)"/><stop offset="0.075" stop-color="rgb(255,77,77)"/><stop offset="0.100" stop-color="rgb(255,88,88)"/><stop offset="0.125" stop-color="rgb(255,98,98)"/><stop offset="0.150" stop-color="rgb(255,109,109)"/><stop offset="0.175" stop-color="rgb(255,119,119)"/><stop offset="0.200" stop-color="rgb(255,130,130)"/><stop offset="0.225" stop-color="rgb(255,140,140)"/><stop offset="0.250" stop-color="rgb(255,150,150)"/><stop offset="0.275" stop-color="rgb(255,161,161)"/><stop offset="0.300" stop-color="rgb(255,171,171)"/><stop offset="0.325" stop-color="rgb(255,182,182)"/><stop offset="0.350" stop-color="rgb(255,192,192)"/><stop offset="0.375" stop-color="rgb(255,203,203)"/><stop offset="0.400" stop-color="rgb(255,213,213)"/><stop offset="0.425" stop-color="rgb(255,224,224)"/><stop offset="0.450" stop-color="rgb(255,234,234)"/><stop offset="0.475" stop-color="rgb(255,245,245)"/><stop offset="0.500" stop-color="rgb(255,255,255)"/><stop offset="0.525" stop-color="rgb(245,245,255)"/><stop offset="0.550" stop-color="rgb(234,234,255)"/><stop offset="0.575" stop-color="rgb(224,224,255)"/><stop offset="0.600" stop-color="rgb(213,213,255)"/><stop offset="0.625" stop-color="rgb(203,203,255)"/><stop offset="0.650" stop-color="rgb(192,192,255)"/><stop offset="0.675" stop-color="rgb(182,182,255)"/><stop offset="0.700" stop-color="rgb(171,171,255)"/><stop offset="0.725" stop-color="rgb(161,161,255)"/><stop offset="0.750" stop-color="rgb(150,150,255)"/><stop offset="0.775" stop-color="rgb(140,140,255)"/><stop offset="0.800" stop-color="rgb(130,130,255)"/><stop offset="0.825" stop-color="rgb(119,119,255)"/><stop offset="0.850" stop-color="rgb(109,109,255)"/><stop offset="0.875" stop-color="rgb(98,98,255)"/><stop offset="0.900" stop-color="rgb(88,88,255)"/><stop offset="0.925" stop-color="rgb(77,77,255)"/><stop offset="0.950" stop-color="rgb(67,67,255)"/><stop offset="0.975" stop-color="rgb(56,56,255)"/><stop offset="1.000" stop-color="rgb(46,46,255)"/></linearGradient></defs>
<rect x="647.3" y="275.9" width="9.8" height="125" fill="url(#cb)" stroke="#a0a0a0" stroke-width="0.8"/>
<line x1="655.4" y1="308.4" x2="657.1" y2="308.4" stroke="#888" stroke-width="0.7"/>
<line x1="655.4" y1="338.5" x2="657.1" y2="338.5" stroke="#888" stroke-width="0.7"/>
<line x1="655.4" y1="369.2" x2="657.1" y2="369.2" stroke="#888" stroke-width="0.7"/>
<text x="659.40" y="279.30" font-size="6.8" fill="#262626">1</text>
<text x="659.40" y="310.70" font-size="6.8" fill="#262626">0.5</text>
<text x="659.40" y="340.80" font-size="6.8" fill="#262626">0</text>
<text x="659.40" y="371.50" font-size="6.8" fill="#262626">-0.5</text>
<text x="659.40" y="402.90" font-size="6.8" fill="#262626">-1</text>
<text transform="translate(674.5,334) rotate(90)" font-size="12" fill="#262626" text-anchor="middle" textLength="49.5" lengthAdjust="spacingAndGlyphs">correlation</text>
</svg>
</body></html>
